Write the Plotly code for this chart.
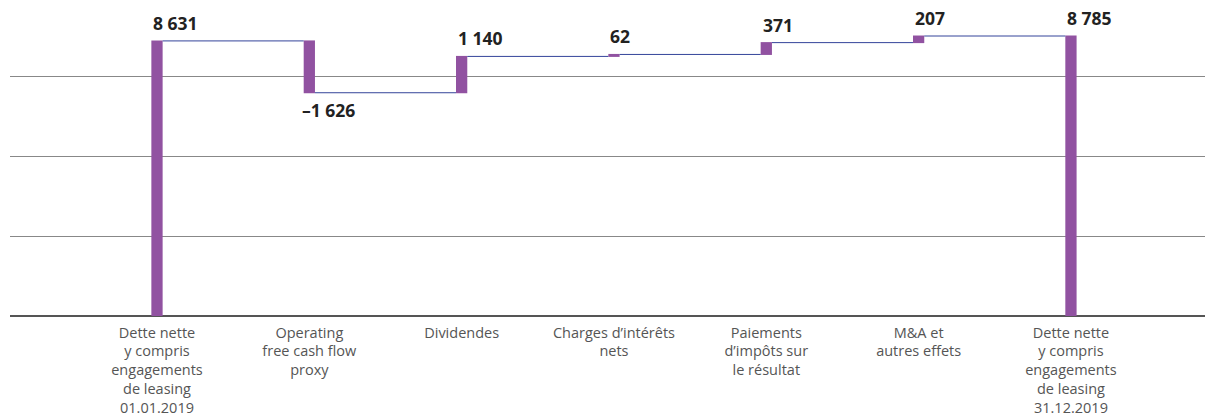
import plotly.graph_objects as go

categories = [
    "Dette nette<br>y compris<br>engagements<br>de leasing<br>01.01.2019",
    "Operating<br>free cash flow<br>proxy",
    "Dividendes",
    "Charges d’intérêts<br>nets",
    "Paiements<br>d’impôts sur<br>le résultat",
    "M&A et<br>autres effets",
    "Dette nette<br>y compris<br>engagements<br>de leasing<br>31.12.2019",
]
values = [8631, -1626, 1140, 62, 371, 207, 8785]
measures = ["absolute", "relative", "relative", "relative", "relative", "relative", "total"]
labels = ["8 631", "–1 626", "1 140", "62", "371", "207", "8 785"]

BAR_W = 0.074
xs = list(range(len(categories)))

fig = go.Figure(go.Waterfall(
    x=xs,
    y=values,
    measure=measures,
    width=BAR_W,
    increasing=dict(marker=dict(color="#9152a1")),
    decreasing=dict(marker=dict(color="#9152a1")),
    totals=dict(marker=dict(color="#9152a1")),
    connector=dict(line=dict(color="#34449a", width=1)),
    textposition="none",
    hoverinfo="skip",
))

# label annotations computed from cumulative values
cum = 0
for i, (v, m, lab) in enumerate(zip(values, measures, labels)):
    if m == "absolute":
        start, end = 0, v
        cum = v
    elif m == "total":
        start, end = 0, cum
    else:
        start, end = cum, cum + v
        cum += v
    top = max(start, end)
    bottom = min(start, end)
    if v >= 0:
        fig.add_annotation(x=i - BAR_W / 2, y=top, text="<b>%s</b>" % lab,
                           xanchor="left", yanchor="bottom", yshift=4, xshift=0,
                           showarrow=False,
                           font=dict(size=17.5, color="#222222", family="Open Sans"))
    else:
        fig.add_annotation(x=i - BAR_W / 2, y=bottom, text="<b>%s</b>" % lab,
                           xanchor="left", yanchor="top", yshift=-3, xshift=-4,
                           showarrow=False,
                           font=dict(size=17.5, color="#222222", family="Open Sans"))

fig.update_layout(
    width=1205, height=416,
    margin=dict(l=10, r=0, t=0, b=100),
    plot_bgcolor="white", paper_bgcolor="white",
    showlegend=False,
    font=dict(family="Open Sans", color="#555555", size=14.5),
    xaxis=dict(
        range=[-0.965, 6.88], tickmode="array", tickvals=xs, ticktext=categories,
        showgrid=False, zeroline=False, showline=False, ticks="",
        tickfont=dict(size=14.5, color="#555555"), automargin=False,
        ticklabelstandoff=6,
    ),
    yaxis=dict(
        range=[0, 9915], tickvals=[0, 2500, 5000, 7500], showticklabels=False,
        showgrid=True, gridcolor="#888888", gridwidth=1,
        zeroline=True, zerolinecolor="#555555", zerolinewidth=1.5,
        showline=False, automargin=False, fixedrange=True,
    ),
)

fig.write_html("out.html", config={"displayModeBar": False},
               post_script="document.body.style.margin='0';")
